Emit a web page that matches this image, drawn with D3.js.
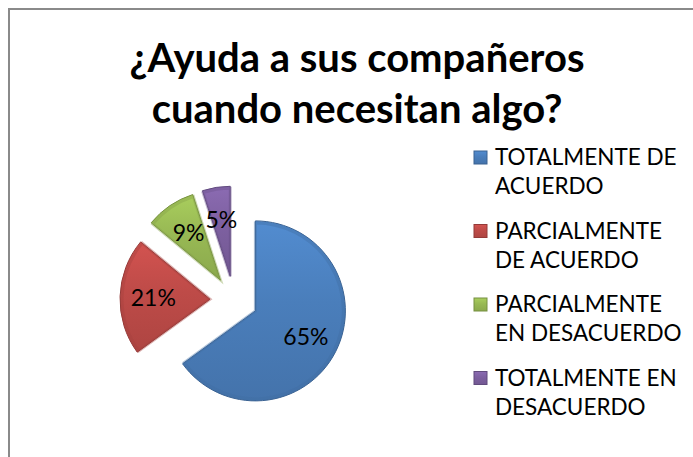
<!DOCTYPE html>
<html>
<head>
<meta charset="utf-8">
<script src="https://cdn.jsdelivr.net/npm/d3@7"></script>
<style>
  body { margin: 0; background: #fff; }
  text { font-family: Lato, "Open Sans", sans-serif; }
</style>
</head>
<body>
<div id="piechart"></div>
<script>
// data
const categories = ["TOTALMENTE DE ACUERDO", "PARCIALMENTE DE ACUERDO", "PARCIALMENTE EN DESACUERDO", "TOTALMENTE EN DESACUERDO"]
const values = [65, 21, 9, 5]
const legendLines = [["TOTALMENTE DE", "ACUERDO"], ["PARCIALMENTE", "DE ACUERDO"], ["PARCIALMENTE", "EN DESACUERDO"], ["TOTALMENTE EN", "DESACUERDO"]]
const titleLines = ["¿Ayuda a sus compañeros", "cuando necesitan algo?"]

const width = 693, height = 457
const radius = 90
const explode = 24
const cx = 234, cy = 300

let svg = d3.select("#piechart")
    .append("svg")
    .attr("width", width)
    .attr("height", height)

// chart border (right and bottom fall outside the picture)
svg.append("rect")
    .attr("x", 9)
    .attr("y", 9)
    .attr("width", 720)
    .attr("height", 480)
    .attr("fill", "#fff")
    .attr("stroke", "#8a8a8a")
    .attr("stroke-width", 2)

let color = d3.scaleOrdinal()
    .domain(categories)
    .range(["#4a7ebb", "#be4b48", "#98b954", "#7d60a0"])

// gradients to get a bit of the bevel look
let defs = svg.append("defs")
categories.forEach(function(c, i) {
    let base = d3.color(color(c))
    let g = defs.append("linearGradient")
        .attr("id", "grad" + i)
        .attr("x1", 0).attr("y1", 0)
        .attr("x2", 0).attr("y2", 1)
    g.append("stop").attr("offset", "0%").attr("stop-color", base.brighter(0.3))
    g.append("stop").attr("offset", "45%").attr("stop-color", base)
    g.append("stop").attr("offset", "100%").attr("stop-color", base.darker(0.25))
})

// title
svg.append("g")
    .selectAll("text")
    .data(titleLines)
    .enter()
    .append("text")
    .attr("x", 357)
    .attr("y", function(d, i) { return 72 + i * 51 })
    .attr("text-anchor", "middle")
    .style("font-size", "40px")
    .style("font-weight", "bold")
    .text(function(d) { return d })

let pie = d3.pie()
    .sort(null)
    .value(function(d) { return d.value })

let pie_data = pie(categories.map(function(c, i) { return {key: c, value: values[i]} }))

let arc = d3.arc()
    .innerRadius(0)
    .outerRadius(radius)

let labelArc = d3.arc()
    .innerRadius(radius * 0.63)
    .outerRadius(radius * 0.63)

function offset(d) {
    let a = (d.startAngle + d.endAngle) / 2
    return [Math.sin(a) * explode, -Math.cos(a) * explode]
}

let svg_pie = svg.append("g")
    .attr("transform", `translate(${cx}, ${cy})`)

let slices = svg_pie.selectAll("g.slice")
    .data(pie_data)
    .enter()
    .append("g")
    .attr("class", "slice")
    .attr("transform", function(d) { let o = offset(d); return `translate(${o[0]}, ${o[1]})` })

slices.append("path")
    .attr("d", arc)
    .attr("fill", function(d) { return `url(#grad${d.index})` })
    .attr("stroke", function(d) { return d3.color(color(d.data.key)).darker(0.7) })
    .style("stroke-width", "1px")

// soft inner rim
slices.append("path")
    .attr("d", d3.arc().innerRadius(0).outerRadius(radius - 2))
    .attr("fill", "none")
    .attr("stroke", function(d) { return d3.color(color(d.data.key)).darker(0.4) })
    .attr("stroke-opacity", 0.4)
    .style("stroke-width", "3px")

slices.append("text")
    .attr("transform", function(d) { return `translate(${labelArc.centroid(d)})` })
    .attr("text-anchor", "middle")
    .attr("dy", "0.35em")
    .style("font-size", "23px")
    .style("fill", "#000")
    .text(function(d) { return d.data.value + "%" })

// legend
const legend = svg.append("g")
    .attr("transform", "translate(474, 151)")

let items = legend.selectAll("g")
    .data(pie_data)
    .enter()
    .append("g")
    .attr("transform", function(d) { return `translate(0, ${d.index * 73.5})` })

items.append("rect")
    .attr("width", 13)
    .attr("height", 13)
    .attr("fill", function(d) { return `url(#grad${d.index})` })
    .attr("stroke", function(d) { return d3.color(color(d.data.key)).darker(0.7) })
    .style("stroke-width", "1px")

items.append("text")
    .attr("x", 21)
    .attr("y", 14)
    .style("font-size", "22.5px")
    .selectAll("tspan")
    .data(function(d) { return legendLines[d.index] })
    .enter()
    .append("tspan")
    .attr("x", 21)
    .attr("dy", function(d, i) { return i == 0 ? 0 : 29 })
    .text(function(d) { return d })
</script>
</body>
</html>
